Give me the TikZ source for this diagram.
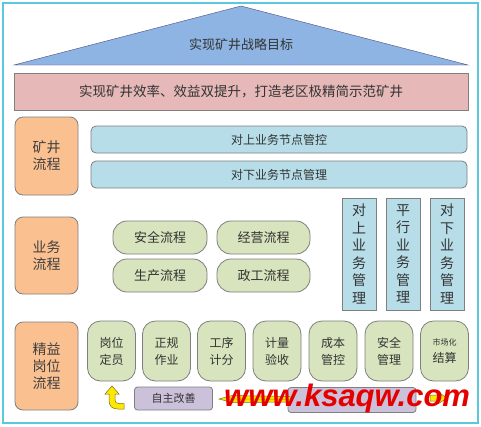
\documentclass[tikz,border=0pt]{standalone}
\usepackage{fontspec}
\setmainfont{Noto Sans CJK SC}
\newfontfamily\wmfont{Liberation Sans}
\definecolor{cblue}{HTML}{B7DDE8}
\definecolor{corange}{HTML}{FAC090}
\definecolor{cpink}{HTML}{E6B9B8}
\definecolor{croof}{HTML}{8EB4E3}
\definecolor{cgreen}{HTML}{D7E4BD}
\definecolor{cpurple}{HTML}{CCC1DA}
\definecolor{cframe}{HTML}{5CC8DE}
\definecolor{cline}{HTML}{7F7F7F}
\begin{document}
\begin{tikzpicture}[x=1pt,y=-1pt,
  box/.style={draw=cline, line width=0.8pt},
  orangebox/.style={box, fill=corange, rounded corners=8pt, font=\fontsize{14}{17}\selectfont, text=black!75, align=center},
  bluebar/.style={box, fill=cblue, rounded corners=5pt, font=\fontsize{12}{14}\selectfont, text=black!80},
  pill/.style={box, fill=cgreen, rounded corners=14pt, font=\fontsize{13}{15}\selectfont, text=black!80},
  vbox/.style={box, fill=cblue, font=\fontsize{14}{17.5}\selectfont, text=black!80, align=center},
  gbox/.style={box, fill=cgreen, rounded corners=13pt, font=\fontsize{12}{17}\selectfont, text=black!80, align=center},
  pbox/.style={box, fill=cpurple, rounded corners=3pt, font=\fontsize{11}{13}\selectfont, text=black!80},
  yarrow/.style={fill=yellow!90!orange, draw=olive!80!black, line width=0.5pt}
]
\useasboundingbox (0,0) rectangle (481,426);
\fill[white] (0,0) rectangle (481,426);
\draw[cframe, line width=2pt] (3,3) rectangle (478,423);

% roof
\draw[fill=croof, draw=blue!30!black!70] (14,65) -- (241,6) -- (468,65) -- cycle;
\node[font=\fontsize{13}{15}\selectfont, text=black!80] (goal) at (241,45) {实现矿井战略目标};

% pink bar
\node[box, fill=cpink, minimum width=454pt, minimum height=37pt, font=\fontsize{13.5}{15}\selectfont, text=black!80] (vision) at (241,91.5) {实现矿井效率、效益双提升，打造老区极精简示范矿井};

% left orange boxes
\node[orangebox, minimum width=63pt, minimum height=78pt] (mine) at (46.5,156) {矿井\\流程};
\node[orangebox, minimum width=63pt, minimum height=77pt] (biz) at (46.5,255.5) {业务\\流程};
\node[orangebox, minimum width=63pt, minimum height=88pt] (lean) at (46.5,366) {精益\\岗位\\流程};

% blue bars
\node[bluebar, minimum width=376pt, minimum height=27pt] (up) at (279,139.5) {对上业务节点管控};
\node[bluebar, minimum width=376pt, minimum height=27pt] (down) at (279,174.5) {对下业务节点管理};

% pills
\node[pill, minimum width=94pt, minimum height=33pt] (safe) at (160,237.5) {安全流程};
\node[pill, minimum width=93pt, minimum height=33pt] (oper) at (263.5,237.5) {经营流程};
\node[pill, minimum width=94pt, minimum height=33pt] (prod) at (160,275.5) {生产流程};
\node[pill, minimum width=93pt, minimum height=33pt] (pol) at (263.5,275.5) {政工流程};

% vertical boxes
\node[vbox, minimum width=34pt, minimum height=112pt] (v1) at (359,254) {对\\上\\业\\务\\管\\理};
\node[vbox, minimum width=34pt, minimum height=112pt] (v2) at (403,254) {平\\行\\业\\务\\管\\理};
\node[vbox, minimum width=34pt, minimum height=112pt] (v3) at (447,254) {对\\下\\业\\务\\管\\理};

% bottom green boxes
\foreach \n/\x/\t in {g1/111.5/岗位\\定员, g2/166.5/正规\\作业, g3/221.5/工序\\计分, g4/277/计量\\验收, g5/333/成本\\管控, g6/389/安全\\管理}
  \node[gbox, minimum width=48pt, minimum height=60pt] (\n) at (\x,351) {\t};
\node[gbox, minimum width=48pt, minimum height=60pt, font=\fontsize{8}{17}\selectfont] (g7) at (444.5,351) {市场化\\{\fontsize{12}{17}\selectfont 结算}};

% purple boxes
\node[pbox, minimum width=78pt, minimum height=23pt] (self) at (173.5,398.5) {自主改善};
\node[pbox, minimum width=128pt, minimum height=25pt] (mech) at (352,400) {};

% yellow arrows
\coordinate (ca) at (112,386);
\draw[yarrow] (ca) -- (119,394) -- (115,394) -- (115,400) .. controls (115,402.5) and (116.5,403.5) .. (119,403.5) -- (124,403.5) -- (124,409) -- (118,409) .. controls (112,409) and (109,406) .. (109,400) -- (109,394) -- (105,394) -- cycle;
\coordinate (la) at (219,399);
\draw[yarrow] (la) -- (232,395.5) -- (290,396.5) -- (290,402) -- (232,402.5) -- cycle;
\draw[olive!60!yellow, line width=0.6pt] (230,399) -- (289,399.3);
\coordinate (ra) at (447,398);
\draw[yarrow] (ra) -- (438,392) -- (438,395) -- (430,395) -- (430,401) -- (438,401) -- (438,404) -- cycle;

% watermark
\node[font=\wmfont\bfseries\itshape\fontsize{31}{31}\selectfont, text=red!90!black, anchor=west, inner sep=0pt] (wm) at (224,398) {www.ksaqw.com};
\end{tikzpicture}
\end{document}
